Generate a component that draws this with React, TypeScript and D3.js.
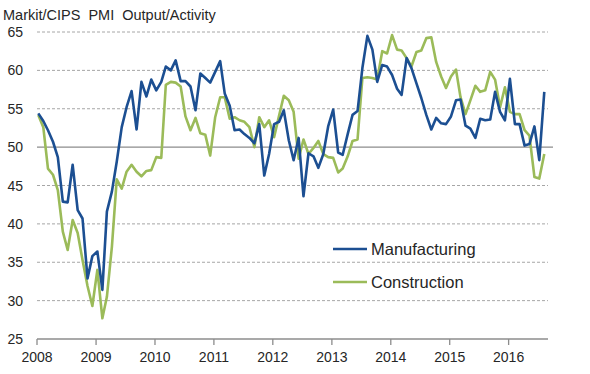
import React, { useEffect, useRef } from 'react';
import * as d3 from 'd3';

// Monthly readings, Jan 2008 - Aug 2016
const startYear = 2008;
const startMonth = 0;

const manufacturing: number[] = [
  54.4, 53.4, 52.2, 50.7, 48.7, 42.9, 42.8, 47.7, 41.8, 40.7, 32.9, 35.8,
  36.4, 31.4, 41.6, 44.2, 48.1, 52.6, 55.2, 57.3, 52.3, 58.5, 56.6, 58.8,
  57.4, 58.5, 60.5, 60.0, 61.3, 58.6, 58.6, 57.9, 54.8, 59.6, 59.0, 58.4,
  59.8, 61.2, 57.0, 55.4, 52.2, 52.3, 51.7, 51.2, 50.5, 53.0, 46.3, 49.1,
  53.0, 53.3, 54.8, 50.9, 48.3, 51.2, 43.6, 49.2, 48.8, 47.3, 49.1, 52.7,
  54.9, 49.3, 49.0, 51.7, 54.2, 54.7, 60.3, 64.5, 62.7, 58.5, 60.7, 60.5,
  59.4, 57.6, 56.8, 61.6, 60.3, 58.3, 56.4, 54.2, 52.3, 53.8, 53.1, 53.0,
  54.0, 56.1, 56.2, 52.8, 52.4, 51.2, 53.7, 53.5, 53.6, 57.2, 54.6, 53.5,
  58.9, 53.0, 53.0, 50.2, 50.4, 52.7, 48.3, 57.2,
];

const construction: number[] = [
  54.2, 52.6, 47.2, 46.4, 44.4, 39.0, 36.6, 40.5, 38.8, 35.3, 31.9, 29.3,
  34.0, 27.7, 30.5, 37.0, 45.8, 44.6, 46.8, 47.7, 46.8, 46.2, 46.9, 47.0,
  48.7, 48.6, 58.1, 58.5, 58.4, 57.9, 54.0, 52.2, 53.8, 51.8, 51.6, 48.9,
  53.9, 56.5, 56.5, 53.7, 53.9, 53.5, 53.3, 52.6, 50.0, 53.9, 52.6, 53.5,
  51.3, 54.1, 56.7, 56.1, 54.6, 48.5, 51.0, 49.1, 49.9, 50.8, 49.1, 48.7,
  48.6, 46.7, 47.2, 48.8, 50.8, 51.0, 59.0, 59.1, 59.0, 58.8, 62.5, 62.2,
  64.6, 62.7, 62.6, 61.6, 60.5, 62.4, 62.6, 64.2, 64.3, 61.1, 59.2, 57.7,
  59.2, 60.1, 56.5, 54.3, 56.1, 58.0, 57.2, 57.4, 59.8, 58.8, 55.2, 57.8,
  54.6, 54.3, 54.3, 52.2, 51.5, 46.1, 45.9, 49.1,
];

const yTicks = [25, 30, 35, 40, 45, 50, 55, 60, 65];
const yearTicks = [2008, 2009, 2010, 2011, 2012, 2013, 2014, 2015, 2016];

const seriesNames = ['Manufacturing', 'Construction'];
const seriesColors = ['#1c4f92', '#9bbb59'];

const App: React.FC = () => {
  const svgRef = useRef<SVGSVGElement>(null);

  useEffect(() => {
    if (!svgRef.current) return;
    const svg = d3.select(svgRef.current);
    svg.selectAll('*').remove();

    const width = 590;
    const height = 374;
    const left = 37;
    const right = 548;
    const top = 32;
    const bottom = 339;
    const font = 'Arial, "Liberation Sans", sans-serif';
    const textColor = '#262626';

    svg.attr('width', width).attr('height', height);

    const x = d3
      .scaleTime()
      .domain([new Date(2008, 0, 1), new Date(2016, 8, 1)])
      .range([left, right]);

    const y = d3.scaleLinear().domain([25, 65]).range([bottom, top]);

    const dateOf = (i: number) => new Date(startYear, startMonth + i, 9);

    // gridlines
    svg
      .append('g')
      .selectAll('line')
      .data(yTicks.filter(d => d > 25))
      .enter()
      .append('line')
      .attr('x1', left)
      .attr('x2', d => (d === 50 ? 553 : right))
      .attr('y1', d => y(d))
      .attr('y2', d => y(d))
      .attr('stroke', d => (d === 50 ? '#8c8c8c' : '#a6a6a6'))
      .attr('stroke-width', d => (d === 50 ? 1.3 : 1))
      .attr('stroke-dasharray', d => (d === 50 ? null : '3,2'));

    // y labels
    svg
      .append('g')
      .selectAll('text')
      .data(yTicks)
      .enter()
      .append('text')
      .attr('x', 23)
      .attr('y', d => y(d))
      .attr('dy', '0.36em')
      .attr('text-anchor', 'end')
      .style('font-family', font)
      .style('font-size', '14px')
      .attr('fill', textColor)
      .text(d => d);

    // x axis
    const xAxis = svg.append('g');
    xAxis
      .append('line')
      .attr('x1', left)
      .attr('x2', right)
      .attr('y1', bottom)
      .attr('y2', bottom)
      .attr('stroke', '#8c8c8c')
      .attr('stroke-width', 1.3);

    const ticks = xAxis
      .selectAll('.tick')
      .data(yearTicks)
      .enter()
      .append('g')
      .attr('class', 'tick')
      .attr('transform', d => `translate(${x(new Date(d, 0, 1))},0)`);

    ticks
      .append('line')
      .attr('y1', bottom)
      .attr('y2', bottom + 6)
      .attr('stroke', '#8c8c8c')
      .attr('stroke-width', 1.3);

    ticks
      .append('text')
      .attr('y', 362)
      .attr('text-anchor', 'middle')
      .style('font-family', font)
      .style('font-size', '14px')
      .attr('fill', textColor)
      .text(d => d);

    // lines
    const line = d3
      .line<number>()
      .x((_, i) => x(dateOf(i)))
      .y(d => y(d));

    [construction, manufacturing].forEach((data, k) => {
      svg
        .append('path')
        .datum(data)
        .attr('fill', 'none')
        .attr('stroke', seriesColors[1 - k])
        .attr('stroke-width', 2.6)
        .attr('stroke-linejoin', 'round')
        .attr('d', line);
    });

    // legend
    const legend = svg
      .append('g')
      .selectAll('g')
      .data(seriesNames)
      .enter()
      .append('g')
      .attr('transform', (_, i) => `translate(333,${249 + i * 33})`);

    legend
      .append('line')
      .attr('x1', 0)
      .attr('x2', 34)
      .attr('stroke', (_, i) => seriesColors[i])
      .attr('stroke-width', 2.6);

    legend
      .append('text')
      .attr('x', 38)
      .attr('dy', '0.36em')
      .style('font-family', font)
      .style('font-size', '16.5px')
      .attr('fill', textColor)
      .text(d => d);

    // title
    svg
      .append('text')
      .attr('x', 3)
      .attr('y', 20)
      .attr('xml:space', 'preserve')
      .style('white-space', 'pre')
      .style('font-family', font)
      .style('font-size', '14.5px')
      .attr('fill', textColor)
      .text('Markit/CIPS  PMI  Output/Activity');
  }, []);

  return (
    <div style={{ position: 'absolute', left: 0, top: 0 }}>
      <svg ref={svgRef}></svg>
    </div>
  );
};

export default App;
